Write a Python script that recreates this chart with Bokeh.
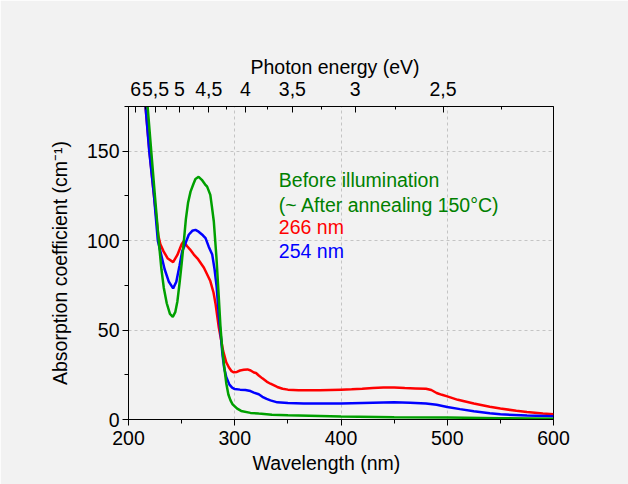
from bokeh.plotting import figure
from bokeh.models import (Range1d, LinearAxis, FixedTicker, CustomJSTickFormatter, Label, Title)
from bokeh.embed import file_html
from bokeh.resources import INLINE

# ---- data ----
red_wl = [214, 216, 219.7, 224, 228, 230, 233, 237, 242, 246, 250, 252, 255, 258, 261.5, 265,
          271, 277, 280, 282, 285, 289, 292, 294.4, 297, 299, 302, 305, 308.5, 312, 315, 318,
          320, 322.6, 326, 330, 333.6, 340, 345, 350, 360, 370, 380, 390, 400, 410, 420, 430,
          440, 450, 460, 470, 480, 485, 490, 495, 500, 510, 525, 540, 550, 565, 575, 590, 600]
red_a = [185, 175, 150, 125, 103, 98, 94, 90, 88, 92, 98, 99.6, 97, 95, 92.2, 90,
         84.8, 77.4, 71, 64.4, 51.4, 38.5, 32, 29.2, 27, 26.4, 26.6, 27.4, 27.8, 28, 27.4, 26.3,
         26, 24.6, 23, 21.2, 20, 18.2, 17.2, 16.7, 16.4, 16.4, 16.3, 16.5, 16.7, 16.9, 17.2, 17.6,
         17.9, 17.9, 17.6, 17.4, 17.2, 16.5, 14.8, 13.8, 12.9, 11, 8.9, 7.1, 6.1, 4.9, 4.2, 3.4, 2.9]

blue_wl = [214, 216, 219.5, 224, 227.6, 230, 234, 238, 242, 245, 248, 250.5, 252, 256.7, 260,
           263, 266, 270, 272.5, 275.6, 278.8, 281, 283, 285, 287, 288.5, 290, 292, 295, 297.5,
           300, 305, 310, 314.8, 318, 322.6, 326, 330, 333.6, 340, 350, 365, 380, 400, 420, 440,
           450, 465, 480, 490, 500, 512, 525, 540, 550, 575, 600]
blue_a = [185, 175, 150, 125, 100, 94, 84, 77, 73.3, 77, 86, 94, 96, 103.3, 105.5,
          106, 105, 103, 101.4, 96.5, 92.2, 84, 74, 58, 46, 36, 29, 23.7, 19.5, 17.8,
          17, 16.7, 16.5, 15.9, 15, 14.1, 12.7, 11.5, 10.7, 9.6, 9.2, 9.0, 8.9, 8.9, 9.2, 9.5,
          9.6, 9.4, 8.9, 8.2, 7.0, 5.8, 4.6, 3.5, 2.9, 2.2, 1.8]

green_wl = [216, 218, 221.4, 225, 228.5, 231, 233.2, 236, 239, 241.7, 244, 246, 248, 250, 252,
            254, 256, 258.4, 261, 263, 266, 269, 272, 274, 277, 278.5, 280.3, 282.8, 285, 286.6,
            288.1, 290, 292.1, 294, 296, 298, 302.3, 306, 314.8, 322.6, 335, 350, 380, 400, 450,
            500, 550, 600]
green_a = [190, 175, 150, 124, 99.6, 84, 73.7, 65, 59, 57.4, 60, 66, 76, 87, 99,
           112, 121, 127.4, 131.5, 134.5, 135.7, 134, 131.5, 130.2, 125.6, 119, 110.7, 90.3, 68.1, 51.5,
           40.3, 30, 20, 14, 10.7, 8.5, 6.1, 4.8, 3.7, 3.3, 2.7, 2.4, 2.0, 1.7, 1.3,
           1.1, 0.7, 0.4]

x_ticks = [200, 300, 400, 500, 600]
x_minor = [250, 350, 450, 550]
y_ticks = [0, 50, 100, 150]
y_minor = [25, 75, 125, 175]
energy_ticks = [6, 5.5, 5, 4.5, 4, 3.5, 3, 2.5]
energy_minor = [5.75, 5.25, 4.75, 4.25, 3.75, 3.25, 2.75, 2.25]
HC = 1240.0

x_title = "Wavelength (nm)"
top_title = "Photon energy (eV)"
y_title = "Absorption coefficient (cm\u207b\u00b9)"
legend_lines = ["Before illumination", "(~ After annealing 150°C)", "266 nm", "254 nm"]
legend_colors = ["#008000", "#008000", "#ff0000", "#0000ff"]

FONT = "Liberation Sans"
FS = "19.5px"
BG = "#f2f2f2"

p = figure(width=628, height=484, output_backend="svg", toolbar_location=None,
           x_range=Range1d(200, 600), y_range=Range1d(0, 175),
           y_axis_label=y_title,
           min_border_left=128, min_border_right=75, min_border_top=106, min_border_bottom=65)
p.background_fill_color = BG
p.border_fill_color = BG
p.outline_line_color = "black"
p.outline_line_alpha = 1.0
p.outline_line_width = 1

p.xaxis.ticker = FixedTicker(ticks=x_ticks, minor_ticks=x_minor)
p.yaxis.ticker = FixedTicker(ticks=y_ticks, minor_ticks=y_minor)

for ax in (p.xaxis[0], p.yaxis[0]):
    ax.major_tick_out = 6
    ax.major_tick_in = 0
    ax.minor_tick_out = 4
    ax.minor_tick_in = 0
    ax.axis_line_color = "black"
    ax.major_tick_line_color = "black"
    ax.minor_tick_line_color = "black"
    ax.major_label_text_font = FONT
    ax.major_label_text_font_size = FS
    ax.major_label_text_color = "black"
    ax.axis_label_text_font = FONT
    ax.axis_label_text_font_size = FS
    ax.axis_label_text_font_style = "normal"
    ax.axis_label_text_color = "black"

p.xaxis.major_label_standoff = 5
p.yaxis.major_label_standoff = 3
p.yaxis.axis_label_standoff = 13

# top axis: photon energy
top = LinearAxis(ticker=FixedTicker(ticks=[HC / e for e in energy_ticks],
                                    minor_ticks=[HC / e for e in energy_minor]),
                 formatter=CustomJSTickFormatter(code="""
                     const e = Math.round(1240 / tick * 100) / 100;
                     return String(e).replace('.', ',');"""))
top.major_tick_in = 6
top.major_tick_out = 0
top.minor_tick_in = 3
top.minor_tick_out = 0
top.axis_line_color = "black"
top.major_tick_line_color = "black"
top.minor_tick_line_color = "black"
top.major_label_text_font = FONT
top.major_label_text_font_size = FS
top.major_label_text_color = "black"
top.major_label_standoff = 11
p.add_layout(top, "above")

# axis titles placed as in the reference (slightly left of centre)
p.add_layout(Title(text=x_title, align="left", offset=124, text_font=FONT,
                   text_font_size=FS, text_font_style="normal", text_color="black",
                   standoff=4), "below")
p.add_layout(Title(text=top_title, align="left", offset=122, text_font=FONT,
                   text_font_size=FS, text_font_style="normal", text_color="black",
                   standoff=2), "above")

for g in (p.xgrid[0], p.ygrid[0]):
    g.grid_line_color = "#c4c4c4"
    g.grid_line_dash = "3 3"
    g.grid_line_width = 1
p.xgrid.ticker = FixedTicker(ticks=x_ticks)
p.ygrid.ticker = FixedTicker(ticks=y_ticks)

p.line(red_wl, red_a, line_color="#ff0000", line_width=2.5)
p.line(blue_wl, blue_a, line_color="#0000ff", line_width=2.5)
p.line(green_wl, green_a, line_color="#00a000", line_width=2.5)

leg_y = [134, 120.2, 107.9, 94]
for t, c, yy in zip(legend_lines, legend_colors, leg_y):
    p.add_layout(Label(x=341.5, y=yy, text=t, text_color=c, text_font=FONT,
                       text_font_size=FS, text_baseline="middle", text_align="left"))

open("out.html", "w").write(file_html(p, INLINE))
